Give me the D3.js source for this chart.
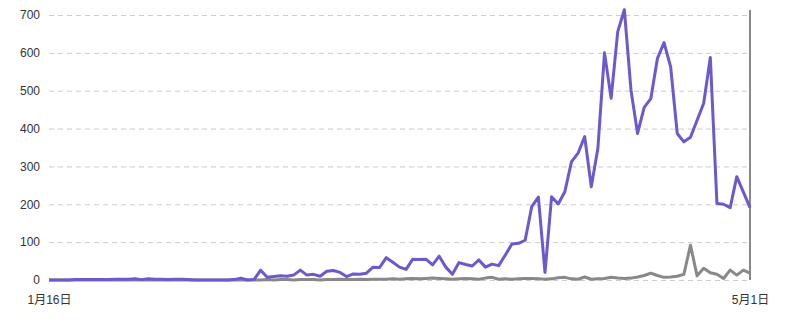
<!DOCTYPE html>
<html>
<head>
<meta charset="utf-8">
<script src="https://cdn.jsdelivr.net/npm/d3@7"></script>
<style>
  body { margin: 0; background: #fff; }
  svg text { font-family: Arial, "Liberation Sans", "Noto Sans CJK SC", sans-serif; font-size: 12px; fill: #333; }
</style>
</head>
<body>
<div id="chart"></div>
<script>
// daily series, 1月16日 .. 5月1日
const startDay = new Date(2020, 0, 16);
const endDay = new Date(2020, 4, 1);

const purpleValues = [
  0, 0, 0, 0, 1, 1, 1, 1, 1, 1, 2, 2, 2, 3, 1, 3, 2, 2, 1, 2,
  2, 1, 0, 0, 0, 0, 0, 0, 1, 5, 0, 1, 26, 7, 9, 11, 10, 13, 26, 13,
  15, 10, 23, 25, 20, 9, 16, 15, 18, 34, 33, 59, 47, 34, 28, 55, 54, 55, 40, 63,
  34, 15, 46, 41, 37, 53, 34, 42, 38, 66, 95, 97, 105, 194, 219, 20, 220, 201, 233, 312,
  335, 379, 246, 348, 600, 480, 656, 714, 502, 387, 456, 479, 585, 627, 563, 387, 365, 377, 422, 467,
  588, 202, 200, 191, 273, 232, 191
];

const grayValues = [
  0, 0, 0, 0, 0, 0, 0, 0, 0, 0, 0, 0, 0, 0, 0, 0, 0, 0, 0, 0,
  0, 0, 0, 0, 0, 0, 0, 0, 0, 0, 0, 0, 0, 1, 0, 1, 1, 0, 1, 1,
  1, 0, 1, 1, 2, 1, 1, 2, 1, 2, 2, 2, 3, 2, 3, 4, 3, 4, 5, 4,
  3, 2, 3, 4, 3, 2, 5, 7, 2, 3, 2, 3, 4, 4, 3, 2, 3, 6, 7, 3,
  2, 8, 2, 3, 4, 7, 5, 4, 5, 8, 12, 18, 12, 7, 8, 10, 15, 92, 11, 31,
  19, 15, 4, 26, 13, 26, 18
];

const yTicks = [0, 100, 200, 300, 400, 500, 600, 700];
const xTickLabels = ["1月16日", "5月1日"];

const width = 800, height = 320;
const margin = { top: 15, right: 50, bottom: 40, left: 49 };

const days = purpleValues.map((v, i) => d3.timeDay.offset(startDay, i));

const svg = d3.select("#chart").append("svg")
  .attr("width", width)
  .attr("height", height);

const x = d3.scaleTime()
  .domain([startDay, endDay])
  .range([margin.left, width - margin.right]);

const y = d3.scaleLinear()
  .domain([0, 700])
  .range([height - margin.bottom, margin.top]);

// dashed grid lines
svg.append("g")
  .selectAll("line")
  .data(yTicks)
  .join("line")
  .attr("x1", x.range()[0])
  .attr("x2", x.range()[1])
  .attr("y1", d => y(d) + 0.5)
  .attr("y2", d => y(d) + 0.5)
  .attr("stroke", "#ccc")
  .attr("stroke-dasharray", "5,4");

// y labels
const yAxis = svg.append("g")
  .attr("transform", `translate(${margin.left - 9},0)`)
  .call(d3.axisLeft(y).tickValues(yTicks).tickSize(0).tickPadding(0));
yAxis.select(".domain").remove();
yAxis.selectAll("text").attr("fill", "#333");

// x labels
const xAxis = svg.append("g")
  .attr("transform", `translate(0,${height - margin.bottom + 15})`)
  .call(d3.axisBottom(x).tickValues([startDay, endDay])
    .tickFormat((d, i) => xTickLabels[i]).tickSize(0).tickPadding(0));
xAxis.select(".domain").remove();
xAxis.selectAll("text").attr("fill", "#333");

// right vertical line
svg.append("line")
  .attr("x1", x(endDay))
  .attr("x2", x(endDay))
  .attr("y1", y(700) - 5)
  .attr("y2", y(0))
  .attr("stroke", "#888")
  .attr("stroke-width", 2);

const line = d3.line()
  .x((d, i) => x(days[i]))
  .y(d => y(d));

svg.append("path")
  .datum(grayValues)
  .attr("fill", "none")
  .attr("stroke", "#888")
  .attr("stroke-width", 3)
  .attr("stroke-linejoin", "round")
  .attr("d", line);

svg.append("path")
  .datum(purpleValues)
  .attr("fill", "none")
  .attr("stroke", "#6a5acd")
  .attr("stroke-width", 3)
  .attr("stroke-linejoin", "round")
  .attr("d", line);
</script>
</body>
</html>
